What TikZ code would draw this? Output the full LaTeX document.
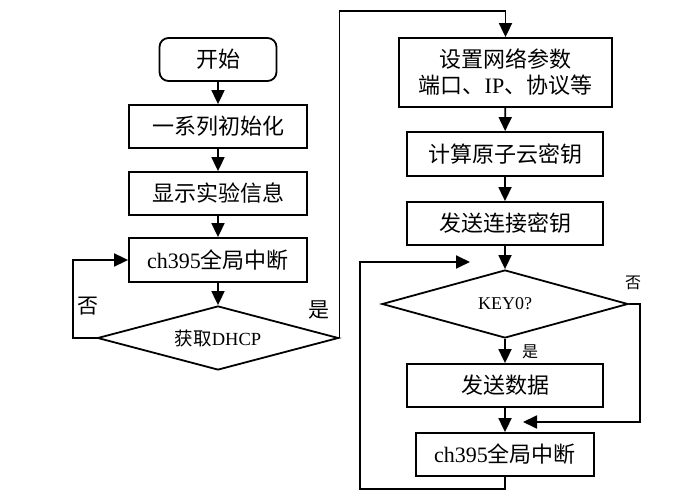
\documentclass[tikz,border=0pt]{standalone}
\usepackage{fontspec}
\setmainfont{Liberation Serif}
\newfontfamily\cjk{Noto Sans CJK SC}
\usetikzlibrary{shapes.geometric,arrows.meta}
\newcommand{\lat}[1]{{\rmfamily #1}}

\begin{document}
\begin{tikzpicture}[x=1pt,y=1pt]
				\tikzstyle{every node}+=[inner sep=0pt]
				\tikzstyle{flowbox}=[draw,line width=1.8pt,minimum height=43pt,font=\cjk\fontsize{22}{26}\selectfont]
				\tikzstyle{flowdec}=[draw,diamond,line width=1.8pt,font=\cjk\fontsize{18.5}{22}\selectfont]
				\tikzstyle{arr}=[line width=1.8pt,-{Triangle[length=14pt,width=13pt]}]
				\tikzstyle{lbl}=[font=\cjk\fontsize{21}{24}\selectfont]
				\useasboundingbox (0,0) rectangle (681,-502);
				% left column
				\node [flowbox,rounded corners=9pt,minimum width=117pt] (start) at (218,-59.5) {开始};
				\node [flowbox,minimum width=178pt] (init) at (218,-126.5) {一系列初始化};
				\node [flowbox,minimum width=178pt] (disp) at (218,-193.5) {显示实验信息};
				\node [flowbox,minimum width=178pt,minimum height=44pt] (intA) at (218,-260) {\lat{ch395}全局中断};
				\node [flowdec,aspect=3.77,minimum width=241pt,minimum height=64pt] (dhcp) at (218,-338) {获取\lat{DHCP}};
				\draw [arr] (start) -- (init);
				\draw [arr] (init) -- (disp);
				\draw [arr] (disp) -- (intA);
				\draw [arr] (intA) -- (dhcp);
				\draw [arr] (dhcp.west) -- ++(-24,0) |- (intA.west);
				\node [lbl] (no1) at (88,-306) {否};
				\node [lbl] (yes1) at (319,-310) {是};
				% right column
				\node [flowbox,minimum width=213pt,minimum height=69pt,align=center] (net) at (505.5,-72.5) {设置网络参数\\端口、\lat{IP}、协议等};
				\node [flowbox,minimum width=196pt,minimum height=44pt] (key) at (505,-154) {计算原子云密钥};
				\node [flowbox,minimum width=196pt] (sendkey) at (505,-223.5) {发送连接密钥};
				\node [flowdec,aspect=3.62,minimum width=246pt,minimum height=68pt,font=\rmfamily\fontsize{18}{21}\selectfont] (key0) at (505,-304) {KEY0?};
				\node [flowbox,minimum width=196pt] (senddata) at (505,-385.5) {发送数据};
				\node [flowbox,minimum width=178pt] (intB) at (505,-454.5) {\lat{ch395}全局中断};
				\coordinate (loopin) at (470,-262);
				\coordinate (joinin) at (523,-422);
				\draw [arr] (dhcp.east) |- ([yshift=26pt]net.north) -- (net.north);
				\draw [arr] (net) -- (key);
				\draw [arr] (key) -- (sendkey);
				\draw [arr] (sendkey) -- (key0);
				\draw [arr] (key0) -- (senddata);
				\draw [arr] (senddata) -- (intB);
				\draw [arr] (key0.east) -- ++(11,0) |- (joinin);
				\draw [arr] (intB.south) |- (360,-489) |- (loopin);
				\node [lbl,font=\cjk\fontsize{16}{18}\selectfont] (yes2) at (530,-352) {是};
				\node [lbl,font=\cjk\fontsize{16}{18}\selectfont] (no2) at (633,-283) {否};
\end{tikzpicture}
\end{document}
